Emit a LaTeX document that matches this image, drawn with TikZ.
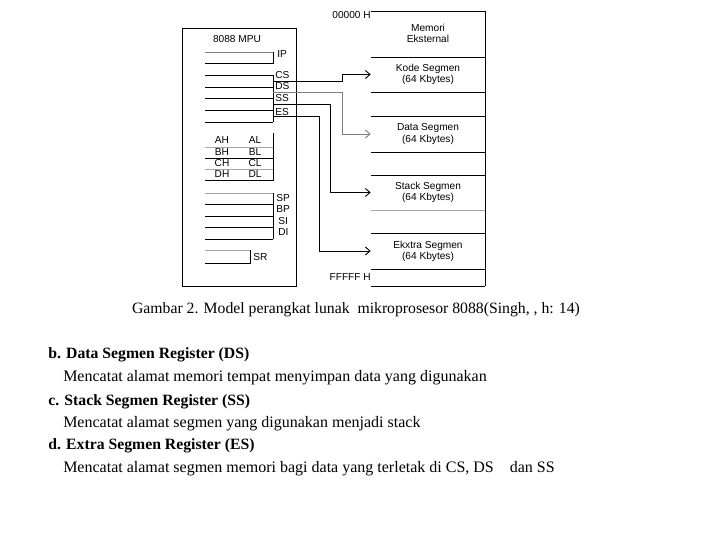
\documentclass[tikz,border=0pt]{standalone}
\usepackage{fontspec}
\setmainfont{Liberation Serif}
\newfontfamily\diagfont{Liberation Sans}
\usetikzlibrary{calc,arrows.meta}

\begin{document}
\begin{tikzpicture}[x=0.75pt,y=-0.75pt]
    % Styles for registers, memory and lines
    \tikzset{
      lbl/.style={font=\diagfont\fontsize{7.6}{8.3}\selectfont, inner sep=0pt},
      seg/.style={lbl, align=center, minimum width=85.5pt, minimum height=20pt},
      reg/.style={line width=0.7pt},
      txt/.style={font=\fontsize{12}{14}\selectfont, inner sep=0pt, anchor=west},
      head/.style={font=\fontsize{11.8}{14}\selectfont\bfseries, inner sep=0pt, anchor=west},
      arrow/.style={line width=0.7pt,->,>={Straight Barb[length=3.5pt,width=6pt]}}
    }
    \useasboundingbox (0,0) rectangle (720,540);

    % MPU box with its registers
    \node[draw, line width=0.7pt, minimum width=85.5pt, minimum height=193.5pt, inner sep=0pt] (mpu) at (239,157) {};
    \node[lbl] (mpuname) at (237,39) {8088 MPU};

    \draw[reg, gray] (205,52) -- (273,52);
    \draw[reg] (205,63) -- (273,63) -- (273,52);
    \node[lbl, anchor=west] (ip) at (277,54) {IP};

    \foreach \y in {75,87,98,110,122}
      \draw[reg] (205,\y) -- (273,\y);
    \draw[reg] (273,75) -- (273,122);
    \node[lbl, anchor=west] (cslbl) at (275,75) {CS};
    \node[lbl, anchor=west] (dslbl) at (275,86) {DS};
    \node[lbl, anchor=west] (sslbl) at (275,98) {SS};
    \node[lbl, anchor=west] (eslbl) at (275,112) {ES};
    \coordinate (cs) at (273,81);
    \coordinate (ds) at (273,92);
    \coordinate (ss) at (273,104);
    \coordinate (es) at (273,116);

    \draw[reg, gray!70] (205,147) -- (273,147);
    \draw[reg] (205,158) -- (273,158);
    \draw[reg, gray!70] (205,169) -- (273,169);
    \draw[reg] (205,180) -- (273,180) -- (273,133);
    \foreach \h/\l/\y in {A/ah/140,B/bh/152,C/ch/163,D/dh/174}{
      \node[lbl] (\l) at (222,\y) {\h H};
      \node[lbl] (\l l) at (255,\y) {\h L};
    }

    \draw[reg, gray!70] (205,193) -- (273,193);
    \foreach \y in {204,216,227,239}
      \draw[reg] (205,\y) -- (273,\y);
    \draw[reg] (273,193) -- (273,239);
    \node[lbl, anchor=west] (sp) at (276,198) {SP};
    \node[lbl, anchor=west] (bp) at (276,209) {BP};
    \node[lbl, anchor=west] (si) at (278,221) {SI};
    \node[lbl, anchor=west] (di) at (278,232) {DI};

    \draw[reg, gray!70] (205,250) -- (250,250);
    \draw[reg] (205,263) -- (250,263) -- (250,250);
    \node[lbl, anchor=west] (sr) at (253,257) {SR};

    % Memory column
    \foreach \y in {11,57,92,116,152,175,233,269,286}
      \draw[reg] (371,\y) -- (485,\y);
    \draw[reg, gray!70] (371,210) -- (485,210);
    \draw[reg] (485,11) -- (485,286);
    \node[lbl, anchor=east] (top) at (371,15) {00000 H};
    \node[lbl, anchor=east] (bottom) at (371,277) {FFFFF H};
    \node[seg] (eks) at (428,33.5) {Memori\\Eksternal};
    \node[seg] (kode) at (428,74.5) {Kode Segmen\\(64 Kbytes)};
    \node[seg] (data) at (428,134) {Data Segmen\\(64 Kbytes)};
    \node[seg] (stack) at (428,192.5) {Stack Segmen\\(64 Kbytes)};
    \node[seg] (extra) at (428,251) {Ekxtra Segmen\\(64 Kbytes)};

    % Arrows from segment registers
    \draw[arrow] (cs) -- ($(cs)+(69,0)$) |- (kode.west);
    \draw[arrow, gray] (ds) -- ($(ds)+(69,0)$) |- (data.west);
    \draw[arrow] (ss) -- ($(ss)+(57,0)$) |- (stack.west);
    \draw[arrow] (es) -- ($(es)+(46,0)$) |- (extra.west);

    % Caption and text
    \node[font=\fontsize{11.8}{14}\selectfont, inner sep=0pt] (caption) at (356,310) {Gambar 2. Model perangkat lunak\ \ mikroprosesor 8088(Singh, , h: 14)};
    \node[head] (b) at (48,355) {b. Data Segmen Register (DS)};
    \node[txt] (bt) at (63,378) {Mencatat alamat memori tempat menyimpan data yang digunakan};
    \node[head] (c) at (48,402) {c. Stack Segmen Register (SS)};
    \node[txt] (ct) at (63,424) {Mencatat alamat segmen yang digunakan menjadi stack};
    \node[head] (d) at (48,446) {d. Extra Segmen Register (ES)};
    \node[txt] (dt) at (63,469) {Mencatat alamat segmen memori bagi data yang terletak di CS, DS\ \ \ \ dan SS};

\end{tikzpicture}
\end{document}
